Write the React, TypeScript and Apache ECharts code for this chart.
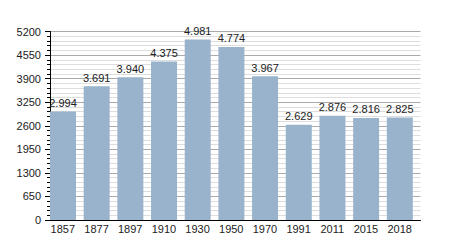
import React, { useEffect, useRef } from "react";
import * as echarts from "echarts";

const years = ["1857", "1877", "1897", "1910", "1930", "1950", "1970", "1991", "2011", "2015", "2018"];
const population = [2994, 3691, 3940, 4375, 4981, 4774, 3967, 2629, 2876, 2816, 2825];
const yMax = 5200;
const yInterval = 650;

const fmt = (v: number) => {
  const s = String(Math.round(v));
  return s.replace(/\B(?=(\d{3})+(?!\d))/g, ".");
};

export default function App() {
  const ref = useRef<HTMLDivElement>(null);
  useEffect(() => {
    if (!ref.current) return;
    const chart = echarts.init(ref.current, null, { renderer: "svg" });
    const font = "Liberation Sans, Arial, sans-serif";
    chart.setOption({
      animation: false,
      backgroundColor: "#ffffff",
      grid: { left: 50, right: 29.5, top: 31.5, bottom: 30, containLabel: false },
      xAxis: {
        type: "category",
        data: years,
        axisLine: { show: true, lineStyle: { color: "#000", width: 1 } },
        axisTick: { show: false },
        axisLabel: {
          color: "#222",
          fontSize: 11,
          fontFamily: font,
          margin: 3,
          padding: [0, 8, 0, 0],
        },
        splitLine: { show: false },
      },
      yAxis: {
        type: "value",
        min: 0,
        max: yMax,
        interval: yInterval,
        axisLine: { show: true, lineStyle: { color: "#000", width: 1 } },
        axisTick: { show: true, length: 5, lineStyle: { color: "#000" } },
        minorTick: { show: true, splitNumber: 5, length: 3, lineStyle: { color: "#000" } },
        axisLabel: {
          color: "#222",
          fontSize: 11,
          fontFamily: font,
          margin: 9,
          formatter: (v: number) => String(v),
        },
        splitLine: { show: true, lineStyle: { color: "#aaaaaa", width: 1 } },
        minorSplitLine: { show: true, lineStyle: { color: "#dddddd", width: 1 } },
      },
      series: [
        {
          type: "bar",
          data: population,
          barWidth: 26,
          barGap: 0,
          itemStyle: { color: "#99b3cc" },
          label: {
            show: true,
            position: "top",
            distance: 3,
            color: "#222",
            fontSize: 11,
            fontFamily: font,
            formatter: (p: any) => fmt(p.value),
          },
          z: 3,
        },
        {
          type: "bar",
          data: [],
          barWidth: 7.7,
          barGap: 0,
          silent: true,
          itemStyle: { color: "transparent" },
        },
      ],
    });
    return () => chart.dispose();
  }, []);
  return <div ref={ref} style={{ width: 450, height: 250, position: "absolute", left: 0, top: 0 }} />;
}
